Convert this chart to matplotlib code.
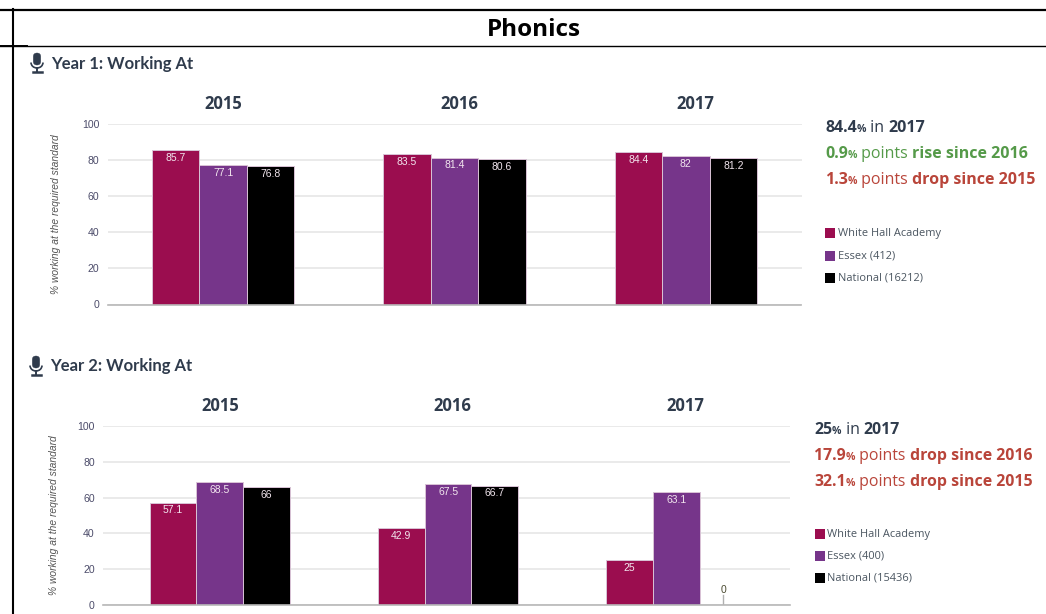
import matplotlib
matplotlib.use('Agg')
import matplotlib.pyplot as plt
from matplotlib.patches import Rectangle, FancyBboxPatch, Arc

# Data
years = ['2015', '2016', '2017']
series_colors = ['#9b0d4f', '#76358a', '#000000']
ticks = [0, 20, 40, 60, 80, 100]

y1_school = [85.7, 83.5, 84.4]
y1_essex = [77.1, 81.4, 82]
y1_national = [76.8, 80.6, 81.2]
y1_legend = ['White Hall Academy', 'Essex (412)', 'National (16212)']

y2_school = [57.1, 42.9, 25]
y2_essex = [68.5, 67.5, 63.1]
y2_national = [66, 66.7, 0]
y2_legend = ['White Hall Academy', 'Essex (400)', 'National (15436)']

W, H = 1046, 614
DARK = '#2f3b4c'
GREEN = '#559a49'
RED = '#b9453a'
plt.rcParams['font.family'] = ['Open Sans', 'DejaVu Sans']

fig = plt.figure(figsize=(W / 100, H / 100), dpi=100)
fig.patch.set_facecolor('white')

# overlay in pixel coordinates for the page furniture
page = fig.add_axes([0, 0, 1, 1], zorder=5)
page.set_xlim(0, W)
page.set_ylim(H, 0)
page.axis('off')


def chart(left, right, top, bottom, xlim, label_x, school, essex, national):
    ax = fig.add_axes([left / W, 1 - bottom / H, (right - left) / W, (bottom - top) / H])
    ax.set_xlim(*xlim)
    ax.set_ylim(0, 100)
    for s in ['top', 'right', 'left']:
        ax.spines[s].set_visible(False)
    ax.spines['bottom'].set_color('#b8b8b8')
    ax.spines['bottom'].set_linewidth(1.2)
    ax.spines['bottom'].set_zorder(5)
    ax.set_axisbelow(True)
    ax.grid(axis='y', color='#e4e4e4', linewidth=1.1)
    ax.set_yticks(ticks)
    ax.tick_params(axis='y', length=0, pad=6, labelsize=7.6, labelcolor='#4c4c6a')
    for t in ax.get_yticklabels():
        t.set_family('Liberation Sans')
    # the year titles sit a little wider apart than the bar groups
    ax.xaxis.tick_top()
    ax.set_xticks([0, 1.02, 2.04])
    ax.set_xticklabels(years, fontsize=12, fontweight='bold', color=DARK)
    ax.tick_params(axis='x', length=0, pad=8)
    ax.set_ylabel('% working at the required standard', fontsize=7.4, style='italic',
                  family='Liberation Sans', color='#555555')
    ax.yaxis.set_label_coords((label_x - left) / (right - left), 0.5)
    width = 0.205
    for i, vals in enumerate([school, essex, national]):
        for j, v in enumerate(vals):
            x = j + (i - 1) * width
            if v == 0:
                ax.plot([x, x], [0, 5.5], color='#b0b0b0', linewidth=1)
                ax.text(x, 8.5, '0', ha='center', va='center', fontsize=7.5, color='#4a4a30',
                        family='Liberation Sans')
                continue
            ax.bar(x, v, width=width, color=series_colors[i], edgecolor='#d9c3d6', linewidth=0.7)
            ax.text(x, v - 4.3, f'{v:g}', ha='center', va='center', fontsize=7.5,
                    color='#f2e6ee', family='Liberation Sans')
    return ax


def runs(x, y, parts, color):
    # parts of one line: (text, size, weight)
    r = fig.canvas.get_renderer()
    for txt, size, weight in parts:
        t = page.text(x, y, txt, fontsize=size, fontweight=weight, color=color,
                      ha='left', va='baseline')
        x += t.get_window_extent(r).width


def summary(x, y, value, rise, drop, big):
    small = 7.6
    runs(x, y, [(value[0], big, 'bold'), ('%', small, 'bold'), (' in ', big, 'normal'),
                ('2017', big, 'bold')], DARK)
    for k, (num, word, year, col) in enumerate([rise, drop]):
        runs(x, y + 26 * (k + 1), [(num, big, 'bold'), ('%', small, 'bold'), (' points ', big, 'normal'),
                                   (word + ' since ' + year, big, 'bold')], col)


def legend(x, ys, labels):
    for y, lab, col in zip(ys, labels, series_colors):
        page.add_patch(Rectangle((x, y - 5), 10, 10, color=col, linewidth=0))
        page.text(x + 12.5, y + 0.5, lab, fontsize=7.9, color='#4a5560', va='center', ha='left')


def mic(cx, cy):
    page.add_patch(FancyBboxPatch((cx - 3.7, cy - 10), 7.4, 12, boxstyle='round,pad=0,rounding_size=3.7',
                                  facecolor=DARK, edgecolor=DARK, linewidth=0.3))
    page.add_patch(Arc((cx, cy - 0.5), 12, 11, theta1=0, theta2=180, color=DARK, linewidth=1.2))
    page.plot([cx, cx], [cy + 5, cy + 8], color=DARK, linewidth=1.4)
    page.plot([cx - 4.5, cx + 4.5], [cy + 9, cy + 9], color=DARK, linewidth=1.8)


def heading(x, y, txt):
    page.text(x, y, txt, fontsize=12, fontweight='bold', color=DARK, va='center', ha='left',
              family='Lato')


# Table lines and title
page.plot([0, W], [9.5, 9.5], color='black', linewidth=1.6)
page.plot([0, W], [45.5, 45.5], color='black', linewidth=1)
page.plot([0, 27], [45.5, 45.5], color='black', linewidth=1.4)
page.plot([13, 13], [9, H], color='black', linewidth=1.5)
page.text(534, 30, 'Phonics', fontsize=17.5, fontweight='bold', color='black', ha='center', va='center')

# Year 1
mic(37, 63)
heading(51, 63.5, 'Year 1: Working At')
chart(107.5, 801.5, 124, 304.5, (-0.5, 2.5), 61, y1_school, y1_essex, y1_national)
summary(825, 132, ['84.4'], ('0.9', 'rise', '2016', GREEN), ('1.3', 'drop', '2015', RED), 11.55)
legend(825, [233, 255.5, 278], y1_legend)

# Year 2
mic(36, 366)
heading(50, 366.5, 'Year 2: Working At')
chart(103, 790, 426, 605, (-0.512, 2.498), 59, y2_school, y2_essex, y2_national)
summary(814, 434, ['25'], ('17.9', 'drop', '2016', RED), ('32.1', 'drop', '2015', RED), 11.45)
legend(814.5, [534, 556, 578], y2_legend)

fig.savefig('out.png', dpi=100)
